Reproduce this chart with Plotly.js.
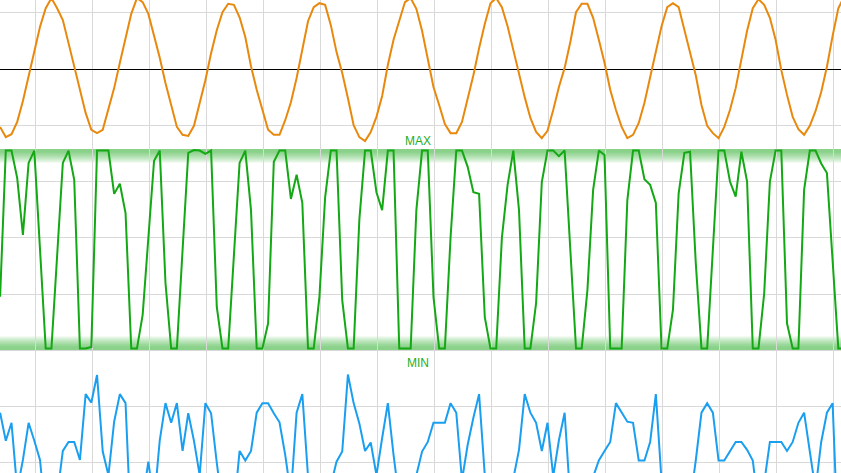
<!DOCTYPE html>
<html>
<head>
<meta charset="utf-8">
<script src="https://cdn.plot.ly/plotly-3.0.1.min.js"></script>
<style>
  html, body { margin: 0; padding: 0; background: #ffffff; }
  #chart { width: 841px; height: 473px; }
</style>
</head>
<body>
<div id="chart"></div>
<script>
// ---- data (one value per sample) ----
const orangeWave = [-1.03,-1.21,-1.16,-0.94,-0.57,-0.14,0.34,0.75,1.08,1.26,
  1.08,0.87,0.46,0.04,-0.37,-0.78,-1.08,-1.14,-1.08,-0.73,
  -0.34,0.11,0.55,0.98,1.26,1.19,0.98,0.60,0.20,-0.25,
  -0.66,-1.03,-1.17,-1.19,-1.01,-0.60,-0.20,0.28,0.69,1.01,
  1.16,1.14,0.92,0.57,0.05,-0.37,-0.73,-1.08,-1.17,-1.17,
  -0.91,-0.59,-0.16,0.37,0.85,1.10,1.17,1.14,0.78,0.30,
  -0.07,-0.52,-1.00,-1.21,-1.28,-1.12,-0.85,-0.48,0.07,0.52,
  0.87,1.19,1.26,1.07,0.68,0.21,-0.32,-0.64,-0.98,-1.14,
  -1.14,-0.94,-0.52,-0.11,0.37,0.80,1.17,1.26,1.10,0.76,
  0.34,-0.11,-0.50,-0.87,-1.12,-1.23,-1.10,-0.73,-0.32,0.02,
  0.48,1.01,1.16,1.16,0.91,0.52,0.11,-0.37,-0.73,-1.03,
  -1.23,-1.17,-0.96,-0.60,-0.14,0.32,0.76,1.10,1.17,1.10,
  0.71,0.30,-0.11,-0.64,-1.01,-1.14,-1.23,-1.03,-0.73,-0.34,
  0.16,0.68,1.08,1.24,1.14,0.91,0.52,-0.02,-0.46,-0.85,
  -1.07,-1.17,-1.01,-0.75,-0.41,0.04,0.59,1.08,1.28];

const greenWave = [-4.05,-1.45,-1.45,-1.94,-2.95,-1.67,-1.45,-3.21,-4.97,-4.97,
  -3.36,-1.67,-1.45,-1.97,-4.97,-4.97,-4.94,-1.45,-1.45,-1.45,
  -2.22,-2.04,-2.56,-4.97,-4.97,-4.37,-3.00,-1.63,-1.45,-3.80,
  -4.97,-4.97,-3.22,-1.49,-1.44,-1.45,-1.51,-1.45,-4.23,-4.97,
  -4.97,-3.32,-1.67,-1.45,-2.51,-4.97,-4.97,-4.52,-1.65,-1.45,
  -1.45,-2.31,-1.88,-2.38,-4.97,-4.97,-4.05,-2.28,-1.45,-1.45,
  -4.11,-4.97,-4.97,-2.68,-1.45,-1.45,-2.19,-2.51,-1.45,-1.45,
  -4.97,-4.97,-4.97,-2.51,-1.45,-1.45,-4.05,-4.97,-4.97,-2.99,
  -1.45,-1.45,-1.74,-2.19,-2.22,-4.41,-4.97,-4.97,-3.00,-2.06,
  -1.45,-2.51,-4.97,-4.97,-4.16,-2.01,-1.45,-1.45,-1.55,-1.45,
  -3.22,-4.97,-4.97,-3.93,-2.15,-1.45,-1.53,-4.97,-4.97,-4.97,
  -2.33,-1.45,-1.45,-1.96,-2.06,-2.38,-4.97,-4.97,-4.28,-2.21,
  -1.49,-1.47,-3.45,-4.97,-4.97,-3.22,-1.45,-1.45,-2.00,-2.27,
  -1.47,-2.00,-4.97,-4.97,-3.99,-2.00,-1.45,-1.45,-4.52,-4.97,
  -4.97,-2.15,-1.45,-1.45,-1.68,-1.85,-3.48,-4.97,-4.97];

const blueNoise = [-6.11,-6.61,-6.29,-7.48,-6.95,-6.29,-6.61,-6.95,-8.0,-7.9,
  -7.59,-6.79,-6.63,-6.63,-6.95,-5.78,-5.93,-5.44,-6.80,-7.22,
  -6.27,-5.78,-5.94,-8.3,-7.8,-7.66,-6.98,-7.72,-6.60,-5.94,
  -6.29,-5.94,-6.79,-6.12,-6.61,-7.22,-5.94,-6.12,-7.00,-7.79,
  -7.5,-7.86,-6.79,-6.96,-6.79,-6.11,-5.94,-5.94,-6.12,-6.28,
  -6.86,-7.57,-6.11,-5.78,-7.24,-7.7,-8.1,-7.6,-7.40,-6.98,
  -6.80,-5.43,-5.94,-6.30,-6.79,-6.64,-7.22,-6.56,-5.94,-6.86,
  -7.66,-7.84,-7.66,-7.22,-6.80,-6.63,-6.29,-6.29,-6.29,-5.94,
  -6.11,-7.31,-6.68,-6.20,-5.78,-7.22,-7.9,-8.2,-7.7,-7.8,
  -7.31,-6.77,-5.78,-6.11,-6.29,-6.79,-6.29,-7.24,-6.60,-6.11,
  -7.66,-7.84,-7.9,-7.66,-7.25,-6.96,-6.79,-6.63,-5.94,-6.11,
  -6.27,-6.29,-6.96,-6.96,-6.63,-5.78,-7.32,-7.9,-8.1,-7.7,
  -7.9,-7.70,-6.96,-6.11,-5.94,-6.11,-6.96,-6.96,-6.80,-6.63,
  -6.63,-6.77,-6.96,-7.79,-7.36,-6.63,-6.63,-6.63,-6.79,-6.63,
  -6.29,-6.11,-6.80,-7.48,-6.63,-6.11,-5.94,-8.55,-7.9];

const maxLevel = -1.452;
const minLevel = -4.965;
const bandLabels = ["MAX", "MIN"];

const sampleIndex = orangeWave.map((_, i) => i);

// ---- traces ----
const traces = [
  { x: sampleIndex, y: orangeWave, type: "scatter", mode: "lines",
    line: { color: "#e8890e", width: 2 }, hoverinfo: "skip" },
  { x: sampleIndex, y: greenWave, type: "scatter", mode: "lines",
    line: { color: "#14a814", width: 2 }, hoverinfo: "skip" },
  { x: sampleIndex, y: blueNoise, type: "scatter", mode: "lines",
    line: { color: "#1a9ff0", width: 2 }, hoverinfo: "skip" }
];

// ---- glowing MAX / MIN bands ----
const shapes = [];
const steps = 6, depth = 0.21;
for (let j = 1; j <= steps; j++) {
  shapes.push({ type: "rect", xref: "paper", yref: "y", x0: 0, x1: 1,
    y0: maxLevel + 0.03, y1: maxLevel - depth * j / steps,
    fillcolor: "rgba(40,175,40,0.12)", line: { width: 0 }, layer: "below" });
  shapes.push({ type: "rect", xref: "paper", yref: "y", x0: 0, x1: 1,
    y0: minLevel - 0.03, y1: minLevel + depth * j / steps,
    fillcolor: "rgba(40,175,40,0.12)", line: { width: 0 }, layer: "below" });
}

const annotations = [
  { x: 73.2, y: maxLevel + 0.17, xref: "x", yref: "y", text: bandLabels[0],
    showarrow: false, xanchor: "center", yanchor: "middle",
    font: { family: "Liberation Sans, Arial, sans-serif", size: 12, color: "#1fae1f" } },
  { x: 73.3, y: minLevel - 0.26, xref: "x", yref: "y", text: bandLabels[1],
    showarrow: false, xanchor: "center", yanchor: "middle",
    font: { family: "Liberation Sans, Arial, sans-serif", size: 12, color: "#1fae1f" } }
];

const layout = {
  width: 841, height: 473,
  margin: { l: 0, r: 0, t: 0, b: 0, pad: 0 },
  paper_bgcolor: "#ffffff", plot_bgcolor: "#ffffff",
  showlegend: false,
  xaxis: {
    range: [-0.018, 147.47], tick0: 6.24, dtick: 10,
    showgrid: true, gridcolor: "#d9d9d9", gridwidth: 1,
    zeroline: false, showline: false, showticklabels: false, ticks: ""
  },
  yaxis: {
    range: [-7.182, 1.2267], tick0: 0, dtick: 1,
    showgrid: true, gridcolor: "#d9d9d9", gridwidth: 1,
    zeroline: true, zerolinecolor: "#000000", zerolinewidth: 1,
    showline: false, showticklabels: false, ticks: ""
  },
  shapes: shapes,
  annotations: annotations
};

Plotly.newPlot("chart", traces, layout, { staticPlot: true, displayModeBar: false });
</script>
</body>
</html>
